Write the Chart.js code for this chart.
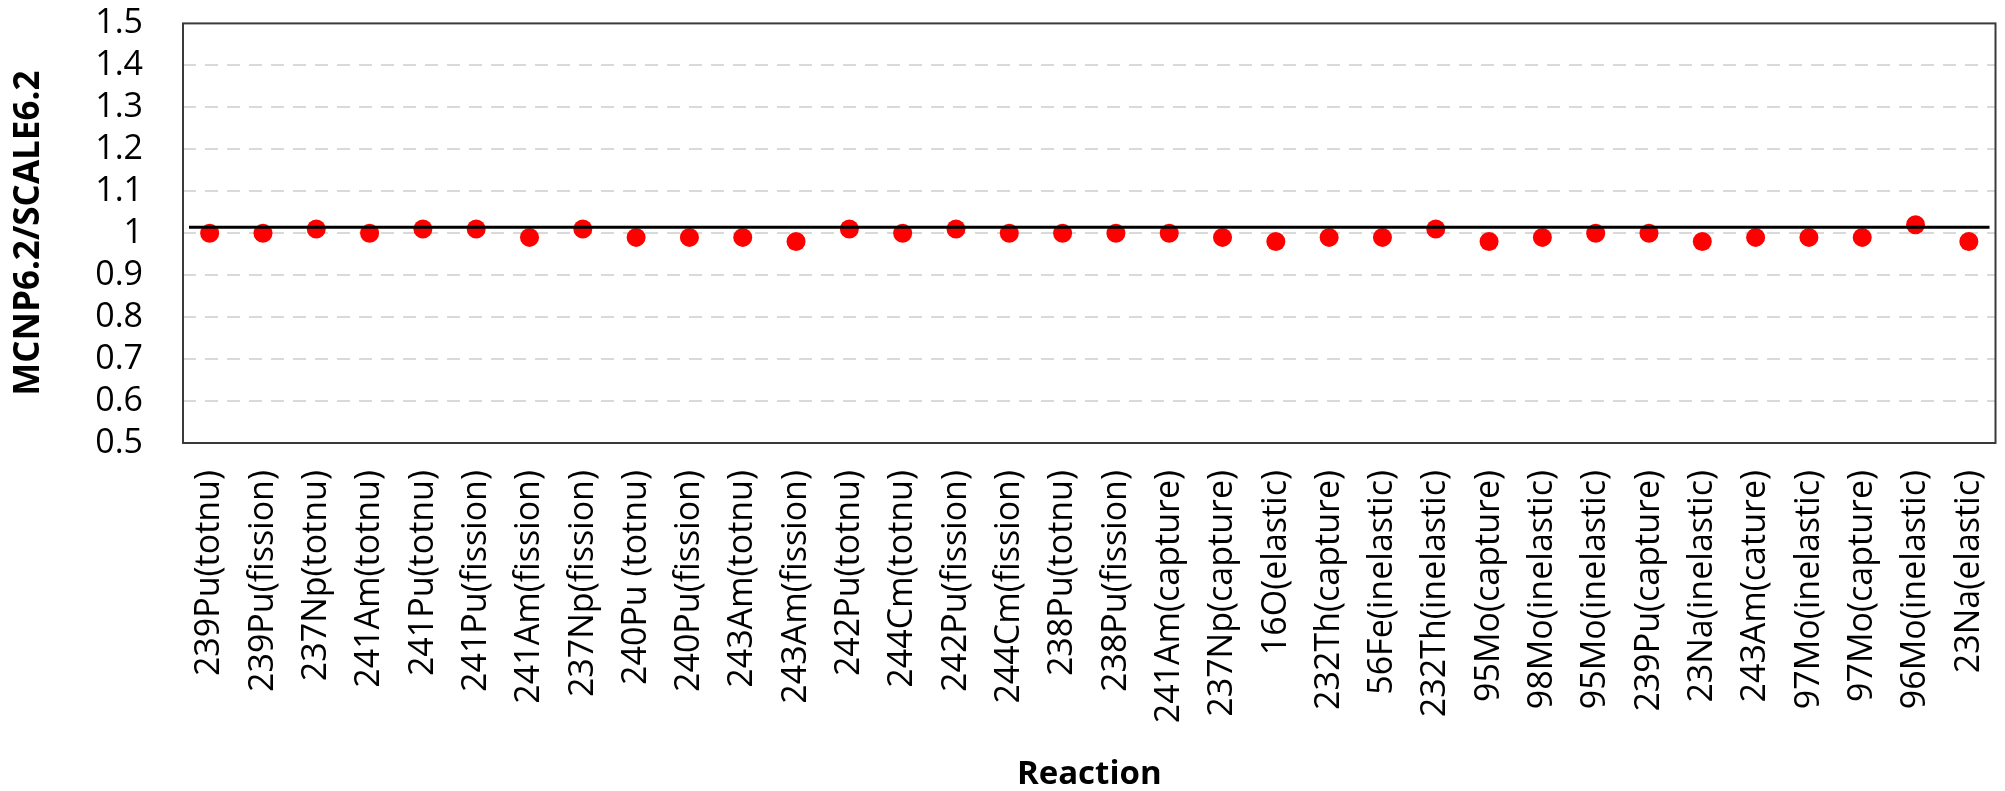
<!DOCTYPE html>
<html>
<head>
<meta charset="utf-8">
<script src="https://cdn.jsdelivr.net/npm/chart.js@4"></script>
<style>
  html, body { margin: 0; padding: 0; background: #fff; }
  canvas { display: block; }
</style>
</head>
<body>
<canvas id="myChart" width="2005" height="791"></canvas>
<script>
// Reaction labels along the x axis
const reactions = [
  "239Pu(totnu)", "239Pu(fission)", "237Np(totnu)", "241Am(totnu)", "241Pu(totnu)",
  "241Pu(fission)", "241Am(fission)", "237Np(fission)", "240Pu (totnu)", "240Pu(fission)",
  "243Am(totnu)", "243Am(fission)", "242Pu(totnu)", "244Cm(totnu)", "242Pu(fission)",
  "244Cm(fission)", "238Pu(totnu)", "238Pu(fission)", "241Am(capture)", "237Np(capture)",
  "16O(elastic)", "232Th(capture)", "56Fe(inelastic)", "232Th(inelastic)", "95Mo(capture)",
  "98Mo(inelastic)", "95Mo(inelastic)", "239Pu(capture)", "23Na(inelastic)", "243Am(cature)",
  "97Mo(inelastic)", "97Mo(capture)", "96Mo(inelastic)", "23Na(elastic)"
];

// MCNP6.2 / SCALE6.2 ratios
const ratios = [
  1.00, 1.00, 1.01, 1.00, 1.01,
  1.01, 0.99, 1.01, 0.99, 0.99,
  0.99, 0.98, 1.01, 1.00, 1.01,
  1.00, 1.00, 1.00, 1.00, 0.99,
  0.98, 0.99, 0.99, 1.01, 0.98,
  0.99, 1.00, 1.00, 0.98, 0.99,
  0.99, 0.99, 1.02, 0.98
];

// y axis ticks and the black reference line
const yTicks = [0.5, 0.6, 0.7, 0.8, 0.9, 1, 1.1, 1.2, 1.3, 1.4, 1.5];
const refValue = 1.014;

const FONT = "'Open Sans', sans-serif";

// draws the box round the plot and the reference line on top of the points
const framePlugin = {
  id: "frame",
  afterDatasetsDraw(chart) {
    const { ctx, chartArea: a, scales } = chart;
    const y = scales.y.getPixelForValue(refValue);
    ctx.save();
    ctx.strokeStyle = "#000";
    ctx.lineWidth = 3;
    ctx.beginPath();
    ctx.moveTo(a.left + 6, y);
    ctx.lineTo(a.right - 6, y);
    ctx.stroke();
    ctx.strokeStyle = "#3a3a3a";
    ctx.lineWidth = 2;
    ctx.strokeRect(a.left, a.top, a.right - a.left, a.bottom - a.top);
    ctx.restore();
  }
};

const config = {
  type: "line",
  data: {
    labels: reactions,
    datasets: [{
      data: ratios,
      showLine: false,
      pointRadius: 9.5,
      pointHoverRadius: 9.5,
      pointBackgroundColor: "#ff0000",
      pointBorderWidth: 0,
      borderColor: "#ff0000"
    }]
  },
  options: {
    responsive: false,
    animation: false,
    layout: { padding: { left: 8, right: 0, top: 3, bottom: 0 } },
    plugins: {
      legend: { display: false },
      tooltip: { enabled: false }
    },
    scales: {
      x: {
        offset: true,
        grid: { display: true, drawOnChartArea: false, drawTicks: true, tickLength: 26, tickColor: "rgba(0,0,0,0)" },
        border: { display: false },
        ticks: {
          autoSkip: false,
          maxRotation: 90,
          minRotation: 90,
          padding: 1,
          color: "#000",
          font: { family: FONT, size: 34, lineHeight: 0.9 }
        },
        title: {
          display: true,
          text: "Reaction",
          color: "#000",
          padding: { top: 0, bottom: 0 },
          font: { family: FONT, size: 33, weight: "bold", lineHeight: 1.0 }
        },
        afterFit(scale) { scale.height = 348; }
      },
      y: {
        min: 0.5,
        max: 1.5,
        afterBuildTicks(scale) { scale.ticks = yTicks.map(v => ({ value: v })); },
        grid: {
          drawTicks: true,
          tickLength: 37,
          tickColor: "rgba(0,0,0,0)",
          color: (c) => (c.tick.value <= 0.5 || c.tick.value >= 1.5) ? "rgba(0,0,0,0)" : "#d9d9d9",
          lineWidth: 2
        },
        border: { display: false, dash: [13, 9] },
        ticks: {
          autoSkip: false,
          padding: 3,
          color: "#000",
          font: { family: FONT, size: 34 },
          callback: (v) => String(Math.round(v * 10) / 10)
        },
        title: {
          display: true,
          text: "MCNP6.2/SCALE6.2",
          color: "#000",
          padding: { top: 0, bottom: 0 },
          font: { family: FONT, size: 35, weight: "bold" }
        },
        afterFit(scale) { scale.width = 175; }
      }
    }
  },
  plugins: [framePlugin]
};

const myChart = new Chart(document.getElementById("myChart"), config);
</script>
</body>
</html>
